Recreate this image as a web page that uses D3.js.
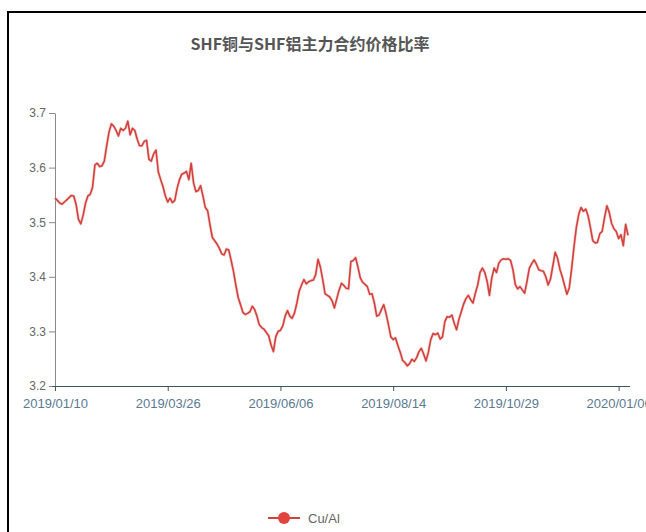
<!DOCTYPE html>
<html><head><meta charset="utf-8">
<script src="https://cdn.jsdelivr.net/npm/d3@7"></script>
<style>
html,body{margin:0;padding:0;background:#fff;}
svg{display:block;}
</style></head>
<body>
<svg id="chart" width="646" height="532"></svg>
<script>
const titleText = "SHF铜与SHF铝主力合约价格比率";
const seriesName = "Cu/Al";
const startDate = "2019-01-10";
const holidays = ["2019-02-04","2019-02-05","2019-02-06","2019-02-07","2019-02-08","2019-04-05","2019-05-01","2019-05-02","2019-05-03","2019-06-07","2019-09-13","2019-10-01","2019-10-02","2019-10-03","2019-10-04","2019-10-07","2020-01-01"];
const labelInterval = 48;
const yTicks = [3.2, 3.3, 3.4, 3.5, 3.6, 3.7];
const ratio = [
3.544,3.540,3.535,3.533,3.537,3.541,3.545,3.549,3.548,3.532,
3.505,3.497,3.513,3.535,3.548,3.551,3.564,3.605,3.608,3.602,
3.603,3.612,3.640,3.665,3.680,3.676,3.668,3.658,3.672,3.668,
3.672,3.685,3.660,3.672,3.668,3.652,3.640,3.640,3.648,3.650,
3.615,3.612,3.625,3.632,3.592,3.578,3.565,3.548,3.537,3.544,
3.536,3.540,3.562,3.578,3.588,3.590,3.593,3.578,3.608,3.572,
3.556,3.558,3.567,3.548,3.527,3.521,3.495,3.472,3.466,3.460,
3.452,3.442,3.440,3.451,3.449,3.430,3.410,3.385,3.362,3.349,
3.335,3.331,3.333,3.336,3.346,3.340,3.328,3.312,3.307,3.304,
3.298,3.292,3.275,3.263,3.290,3.300,3.302,3.310,3.328,3.338,
3.328,3.324,3.334,3.352,3.374,3.385,3.395,3.387,3.391,3.393,
3.394,3.404,3.432,3.418,3.395,3.369,3.366,3.363,3.356,3.343,
3.360,3.376,3.388,3.384,3.379,3.378,3.428,3.430,3.435,3.418,
3.398,3.390,3.386,3.382,3.368,3.369,3.352,3.328,3.330,3.340,
3.349,3.332,3.312,3.290,3.285,3.288,3.274,3.262,3.247,3.243,
3.237,3.241,3.249,3.245,3.252,3.263,3.269,3.258,3.246,3.262,
3.285,3.296,3.294,3.297,3.286,3.290,3.318,3.327,3.326,3.330,
3.315,3.303,3.322,3.336,3.350,3.360,3.366,3.358,3.352,3.370,
3.385,3.408,3.416,3.408,3.392,3.366,3.398,3.416,3.408,3.425,
3.431,3.433,3.432,3.433,3.430,3.413,3.386,3.378,3.382,3.376,
3.370,3.392,3.416,3.424,3.431,3.423,3.413,3.411,3.410,3.400,
3.385,3.396,3.420,3.445,3.434,3.414,3.400,3.384,3.368,3.380,
3.415,3.455,3.490,3.514,3.527,3.520,3.524,3.512,3.490,3.466,
3.462,3.463,3.479,3.483,3.508,3.530,3.518,3.498,3.488,3.483,
3.470,3.477,3.457,3.496,3.476
];

// trading-day calendar for category labels
const fmt = d3.timeFormat("%Y/%m/%d");
const key = d3.timeFormat("%Y-%m-%d");
const dates = [];
{
  let d = d3.timeParse("%Y-%m-%d")(startDate);
  const hol = new Set(holidays);
  while (dates.length < ratio.length) {
    const wd = d.getDay();
    if (wd !== 0 && wd !== 6 && !hol.has(key(d))) dates.push(fmt(d));
    d = d3.timeDay.offset(d, 1);
  }
}

const svg = d3.select("#chart");
const W = 646, H = 532;
const m = {left: 55, right: 17, top: 113, bottom: 146};

// frame
svg.append("rect").attr("x", 8).attr("y", 12).attr("width", 700).attr("height", 600)
  .attr("fill", "none").attr("stroke", "#000").attr("stroke-width", 2);

svg.append("text").attr("x", 310).attr("y", 50).attr("text-anchor", "middle")
  .attr("font-family", "'Noto Sans CJK SC', sans-serif").attr("font-size", 16).attr("font-weight", "bold")
  .attr("fill", "#555").text(titleText);

const x = d3.scaleLinear().domain([0, ratio.length - 1]).range([m.left, W - m.right - 1]);
const y = d3.scaleLinear().domain([3.2, 3.7]).range([H - m.bottom, m.top]);

// y axis
const ya = svg.append("g").attr("transform", `translate(${m.left},0)`)
  .call(d3.axisLeft(y).tickValues(yTicks).tickFormat(d3.format(".1f")).tickSize(6).tickSizeOuter(0));
ya.select(".domain").attr("stroke", "#888");
ya.selectAll(".tick line").attr("stroke", "#888");
ya.selectAll("text").attr("fill", "#666").attr("font-family", "'Liberation Sans', Arial, sans-serif").attr("font-size", 12);

// x axis
const tickIdx = d3.range(0, ratio.length, labelInterval);
const xa = svg.append("g").attr("transform", `translate(0,${H - m.bottom})`)
  .call(d3.axisBottom(x).tickValues(tickIdx).tickFormat(i => dates[i]).tickSize(5).tickSizeOuter(0));
xa.select(".domain").attr("stroke", "#3c5563").attr("stroke-width", 1.2)
  .attr("d", `M${m.left - 3},0.5H${x(ratio.length - 1) + 2}`);
xa.selectAll(".tick line").attr("stroke", "#3c5563");
xa.selectAll("text").attr("fill", "#5a7a92").attr("font-family", "'Liberation Sans', Arial, sans-serif")
  .attr("font-size", 13).attr("dy", "1.1em");

// line
const line = d3.line().x((d, i) => x(i)).y(d => y(d));
svg.append("path").datum(ratio).attr("d", line).attr("fill", "none")
  .attr("stroke", "#f4b5b5").attr("stroke-width", 3).attr("stroke-linejoin", "round").attr("opacity", 0.6);
svg.append("path").datum(ratio).attr("d", line).attr("fill", "none")
  .attr("stroke", "#d2413b").attr("stroke-width", 1.6).attr("stroke-linejoin", "round");

// legend
const lg = svg.append("g").attr("transform", "translate(284,518)");
lg.append("line").attr("x1", -16).attr("x2", 16).attr("stroke", "#d2413b").attr("stroke-width", 2);
lg.append("circle").attr("r", 6).attr("fill", "#e0443c");
lg.append("text").attr("x", 24).attr("y", 5).attr("fill", "#666")
  .attr("font-family", "'Liberation Sans', Arial, sans-serif").attr("font-size", 13).text(seriesName);
</script>
</body></html>
